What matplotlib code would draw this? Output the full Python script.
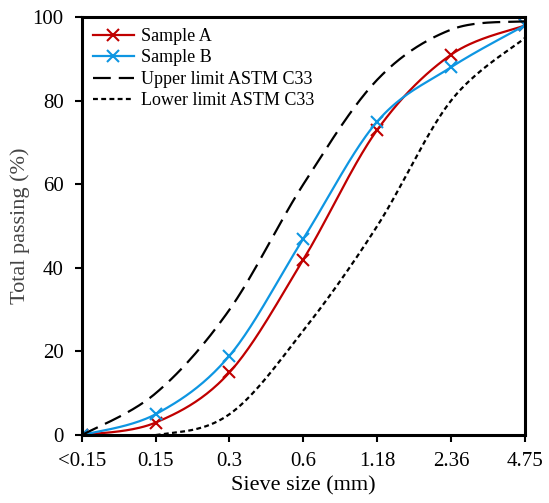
import numpy as np
import matplotlib
matplotlib.use("Agg")
import matplotlib.pyplot as plt

plt.rcParams["font.family"] = ["Liberation Serif", "DejaVu Serif"]

# sieve sizes (mm) and passing percentages
sieves = ["<0.15", "0.15", "0.3", "0.6", "1.18", "2.36", "4.75"]
sample_a = [0, 3, 15, 42, 73, 91, 98]
sample_b = [0, 5, 19, 47, 75, 88, 98]
upper = [0, 10, 30, 60, 85, 97, 99]
lower = [0, 0, 5, 25, 50, 80, 95]


def smooth(x, y, n=40):
    # Excel-like smoothed line: cubic Bezier through the points (Catmull-Rom)
    x = np.asarray(x, float)
    y = np.asarray(y, float)
    px = np.concatenate([[x[0]], x, [x[-1]]])
    py = np.concatenate([[y[0]], y, [y[-1]]])
    xs, ys = [], []
    t = np.linspace(0, 1, n)
    for i in range(1, len(px) - 2):
        p0 = np.array([px[i], py[i]])
        p3 = np.array([px[i + 1], py[i + 1]])
        c1 = p0 + (np.array([px[i + 1], py[i + 1]]) - np.array([px[i - 1], py[i - 1]])) / 6
        c2 = p3 - (np.array([px[i + 2], py[i + 2]]) - np.array([px[i], py[i]])) / 6
        b = ((1 - t) ** 3)[:, None] * p0 + (3 * (1 - t) ** 2 * t)[:, None] * c1 \
            + (3 * (1 - t) * t ** 2)[:, None] * c2 + (t ** 3)[:, None] * p3
        xs.extend(b[:, 0])
        ys.extend(b[:, 1])
    return np.array(xs), np.array(ys)


pos = np.arange(len(sieves))

fig = plt.figure(figsize=(5.49, 5.03), dpi=100)
ax = fig.add_axes([0.149, 0.135, 0.807, 0.831])

red = "#C00000"
blue = "#0E96E2"

xs, ys = smooth(pos, sample_a)
ax.plot(xs, ys, color=red, lw=1.6)
ax.plot(pos, sample_a, "x", color=red, ms=8, mew=1.5)
ax.plot([], [], color=red, lw=1.6, marker="x", ms=8, mew=1.5, label="Sample A")

xs, ys = smooth(pos, sample_b)
ax.plot(xs, ys, color=blue, lw=1.6)
ax.plot(pos, sample_b, "x", color=blue, ms=8, mew=1.5)
ax.plot([], [], color=blue, lw=1.6, marker="x", ms=8, mew=1.5, label="Sample B")

xs, ys = smooth(pos, upper)
ax.plot(xs, ys, color="black", lw=1.6, dashes=(8, 3.6), label="Upper limit ASTM C33")
xs, ys = smooth(pos, lower)
ax.plot(xs, ys, color="black", lw=1.6, dashes=(2.2, 1.5), label="Lower limit ASTM C33")

ax.set_xlim(0, 6)
ax.set_ylim(0, 100)
ax.set_xticks(pos)
ax.set_xticklabels(sieves)
ax.set_yticks(range(0, 101, 20))
ax.tick_params(direction="out", length=5, width=1.5, labelsize=15)
ax.tick_params(axis="x", pad=7)
ax.tick_params(axis="y", pad=8)
for s in ax.spines.values():
    s.set_linewidth(2.2)
    s.set_color("black")

ax.set_xlabel("Sieve size (mm)", fontsize=16, labelpad=4)
ax.set_ylabel("Total passing (%)", fontsize=16, color="#444444", labelpad=2)

ax.legend(loc="upper left", frameon=False, fontsize=13, handlelength=2.3,
          borderaxespad=0.2, labelspacing=0.25, handletextpad=0.4)

fig.savefig("out.png", dpi=100)
